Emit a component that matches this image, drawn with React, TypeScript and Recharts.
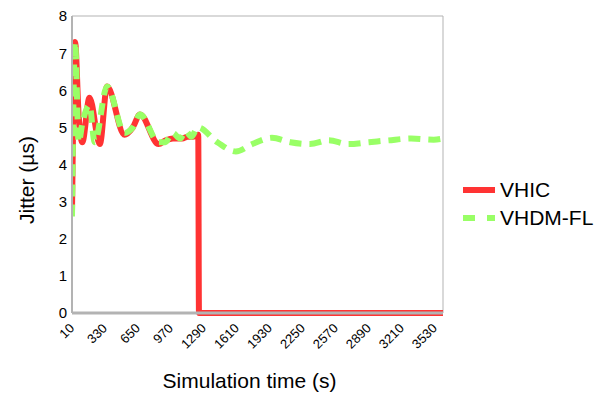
import { Line, LineChart, ReferenceLine, XAxis, YAxis } from "recharts";

const FONT = '"Liberation Sans", Arial, sans-serif';

// simulation time (s) / jitter (µs)
const vhicTime = [10, 40, 75, 110, 180, 280, 350, 520, 600, 670, 850, 920, 990, 1080, 1130, 1180, 1235, 1242, 3610];
const vhicJitter = [2.7, 7.3, 5.3, 4.6, 5.8, 4.55, 6.1, 4.8, 5.0, 5.35, 4.55, 4.65, 4.7, 4.7, 4.75, 4.75, 4.8, 0, 0];

const vhdmTime = [10, 40, 75, 110, 180, 230, 350, 520, 600, 670, 850, 915, 985, 1060, 1110, 1170, 1230, 1420, 1600, 1760, 1950, 2130, 2320, 2500, 2690, 2890, 3080, 3300, 3520, 3610];
const vhdmJitter = [2.6, 7.3, 4.6, 5.1, 5.6, 4.6, 6.1, 4.85, 5.0, 5.35, 4.6, 4.6, 4.85, 4.7, 4.9, 4.75, 5.0, 4.6, 4.35, 4.55, 4.72, 4.6, 4.55, 4.65, 4.55, 4.6, 4.65, 4.7, 4.67, 4.7];

const timeTicks = [10, 330, 650, 970, 1290, 1610, 1930, 2250, 2570, 2890, 3210, 3530];
const jitterTicks = [0, 1, 2, 3, 4, 5, 6, 7, 8];

const vhicData = vhicTime.map((t, i) => ({ t, v: vhicJitter[i] }));
const vhdmData = vhdmTime.map((t, i) => ({ t, v: vhdmJitter[i] }));

const RED = "#ff3333";
const GREEN = "#99ff66";
const GRAY = "#b3b3b3";

const legendItems = [
  { name: "VHIC", color: RED, dash: undefined },
  { name: "VHDM-FL", color: GREEN, dash: "12 12" },
];

function TimeTick({ x, y, payload }: any) {
  const px = x + 3;
  const py = y + 16;
  return (
    <text x={px} y={py} transform={`rotate(-45, ${px}, ${py})`} textAnchor="end" fontSize={13} fontFamily={FONT} fill="#000">
      {payload.value}
    </text>
  );
}

function JitterTick({ x, y, payload }: any) {
  return (
    <text x={x - 5} y={y} dy="0.36em" textAnchor="end" fontSize={15} fontFamily={FONT} fill="#000">
      {payload.value}
    </text>
  );
}

function LegendBox() {
  return (
    <div style={{ position: "absolute", left: 463, top: 176, fontFamily: FONT, fontSize: 21, color: "#000" }}>
      {legendItems.map((p) => (
        <div key={p.name} style={{ display: "flex", alignItems: "center", height: 28 }}>
          <svg width={32} height={28} style={{ marginRight: 5 }}>
            <line x1={0} y1={14} x2={32} y2={14} stroke={p.color} strokeWidth={6} strokeDasharray={p.dash} />
          </svg>
          <span style={{ lineHeight: "28px" }}>{p.name}</span>
        </div>
      ))}
    </div>
  );
}

export default function App() {
  return (
    <div style={{ position: "absolute", left: 0, top: 0, width: 603, height: 394 }}>
      <LineChart width={603} height={394} margin={{ top: 16, right: 160, left: 0, bottom: 0 }}>
        <XAxis
          dataKey="t"
          type="number"
          domain={[10, 3610]}
          ticks={timeTicks}
          interval={0}
          allowDataOverflow
          tick={<TimeTick />}
          tickLine={false}
          tickSize={0}
          tickMargin={0}
          height={81}
          axisLine={{ stroke: GRAY, strokeWidth: 3 }}
          label={({ viewBox }: any) => (
            <text
              x={viewBox.x + viewBox.width / 2 - 8}
              y={388}
              textAnchor="middle"
              fontSize={21}
              fontFamily={FONT}
              fill="#000"
            >
              Simulation time (s)
            </text>
          )}
        />
        <YAxis
          type="number"
          domain={[0, 8]}
          ticks={jitterTicks}
          interval={0}
          width={72}
          tick={<JitterTick />}
          tickLine={false}
          tickSize={0}
          tickMargin={0}
          axisLine={{ stroke: GRAY, strokeWidth: 2 }}
          label={() => (
            <text
              x={0}
              y={0}
              transform="translate(34, 180) rotate(-90)"
              textAnchor="middle"
              fontSize={21}
              fontFamily={FONT}
              fill="#000"
            >
              Jitter (µs)
            </text>
          )}
        />
        <ReferenceLine y={8} stroke={GRAY} strokeWidth={1} ifOverflow="visible" />
        <ReferenceLine x={3610} stroke={GRAY} strokeWidth={1} ifOverflow="visible" />
        <Line
          data={vhicData}
          dataKey="v"
          name="VHIC"
          type="monotone"
          stroke={RED}
          strokeWidth={6}
          dot={false}
          activeDot={false}
          isAnimationActive={false}
        />
        <Line
          data={vhdmData}
          dataKey="v"
          name="VHDM-FL"
          type="monotone"
          stroke={GREEN}
          strokeWidth={6}
          strokeDasharray="12 8"
          dot={false}
          activeDot={false}
          isAnimationActive={false}
        />
      </LineChart>
      <LegendBox />
    </div>
  );
}
